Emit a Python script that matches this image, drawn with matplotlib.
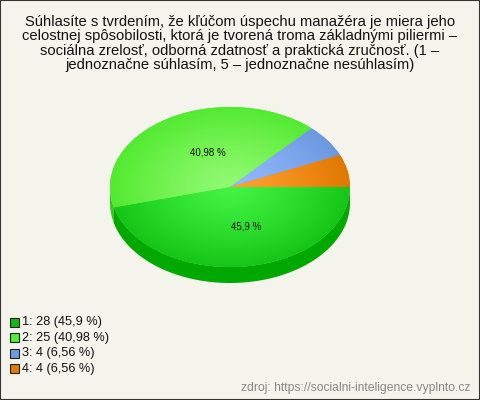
import numpy as np
import matplotlib
matplotlib.use("Agg")
import matplotlib.pyplot as plt
from matplotlib.patches import Rectangle, Polygon
from matplotlib.colors import to_rgb

# ---- data ----
title = ("Súhlasíte s tvrdením, že kľúčom úspechu manažéra je miera jeho\n"
         "celostnej spôsobilosti, ktorá je tvorená troma základnými piliermi –\n"
         "sociálna zrelosť, odborná zdatnosť a praktická zručnosť. (1 –\n"
         "jednoznačne súhlasím, 5 – jednoznačne nesúhlasím)")
categories = ["1", "2", "3", "4"]
counts = [28, 25, 4, 4]
source = "zdroj: https://socialni-inteligence.vyplnto.cz"

# ---- styles ----
center_cols = ["#44f444", "#92fa72", "#94baff", "#ffa232"]
edge_cols = ["#16c616", "#52ea30", "#6c98e0", "#e07800"]
side_cols = ["#00a800", "#3cc424", "#5a84c8", "#c86800"]
legend_cols = ["#11bb11", "#55ee33", "#6f9be0", "#e07a00"]
bg = "#f4f4ec"
FONT = "Liberation Sans"

W, H = 480, 400
fig = plt.figure(figsize=(W / 100, H / 100), dpi=100, facecolor=bg)

def fx(px):
    return px / W

def fy(py):
    return 1 - py / H

# border
fig.patches.append(Rectangle((0, 0), 1, 1, transform=fig.transFigure,
                             fill=False, edgecolor="#333333", lw=1.5))

# title
fig.text(fx(240), fy(43.5), title, ha="center", va="center", fontsize=10.6,
         family=FONT, color="#111111", linespacing=1.02)

# ---- pie geometry (pixels) ----
cx, cy, rx, ry, depth = 230, 187, 120, 80, 16
xl = (-1.25, 1.25)
yl = (-1.5, 1.25)
left = cx - 1.25 * rx
bottom = (H - cy) - 1.5 * ry
ax = fig.add_axes([fx(left), bottom / H, (xl[1] - xl[0]) * rx / W,
                   (yl[1] - yl[0]) * ry / H])
total = sum(counts)

def pct_fmt(p):
    if p < 10:
        return ""
    s = f"{round(p, 2):g}".replace(".", ",")
    return s + " %"

wedges, texts, autotexts = ax.pie(counts, startangle=0, counterclock=False,
                                  radius=1, pctdistance=0.5,
                                  autopct=pct_fmt,
                                  wedgeprops=dict(linewidth=0),
                                  textprops=dict(fontsize=7, family=FONT,
                                                 color="#111111"))
ax.set_aspect("auto")
ax.axis("off")

d = depth / ry
# side walls for front half (angles between -180 and 0)
for w, sc in zip(wedges, side_cols):
    t1, t2 = sorted([w.theta1, w.theta2])
    a, b = max(t1, -180), min(t2, 0)
    if b <= a:
        a2, b2 = max(t1 - 360, -180), min(t2 - 360, 0)
        if b2 <= a2:
            continue
        a, b = a2, b2
    t = np.radians(np.linspace(a, b, 80))
    top = np.column_stack([np.cos(t), np.sin(t)])
    bot = np.column_stack([np.cos(t[::-1]), np.sin(t[::-1]) - d])
    ax.add_patch(Polygon(np.vstack([top, bot]), closed=True, facecolor=sc,
                         edgecolor="none", zorder=0.5))

# radial gradient on top faces
gx = np.linspace(-1, 1, 300)
gy = np.linspace(-1, 1, 300)
GX, GY = np.meshgrid(gx, gy)
R = np.clip(np.sqrt(GX ** 2 + GY ** 2), 0, 1)
for w, c0, c1 in zip(wedges, center_cols, edge_cols):
    a0, a1 = np.array(to_rgb(c0)), np.array(to_rgb(c1))
    img = a0[None, None, :] * (1 - R[..., None] ** 1.2) + a1[None, None, :] * R[..., None] ** 1.2
    w.set_facecolor(c1)
    im = ax.imshow(img, extent=(-1, 1, -1, 1), origin="lower", aspect="auto",
                   zorder=1.5, interpolation="bilinear")
    im.set_clip_path(w)
for t in autotexts:
    t.set_zorder(3)
    px, py = t.get_position()
    t.set_position((px + 0.07, py))
ax.set_xlim(*xl)
ax.set_ylim(*yl)

# ---- legend ----
ly0, lstep = 322, 15.6
for i, (cat, n, lc) in enumerate(zip(categories, counts, legend_cols)):
    y = ly0 + i * lstep
    fig.patches.append(Rectangle((fx(10), fy(y + 4.5)), 9 / W, 9 / H,
                                 transform=fig.transFigure, facecolor=lc,
                                 edgecolor="#222222", lw=0.8))
    pct = f"{round(100 * n / total, 2):g}".replace(".", ",")
    fig.text(fx(22), fy(y), f"{cat}: {n} ({pct} %)", ha="left", va="center",
             fontsize=9.2, family=FONT, color="#111111")

# footer
fig.text(fx(470), fy(388), source, ha="right", va="center", fontsize=8.7,
         family=FONT, color="#888888")

fig.savefig("out.png", dpi=100, facecolor=bg)
